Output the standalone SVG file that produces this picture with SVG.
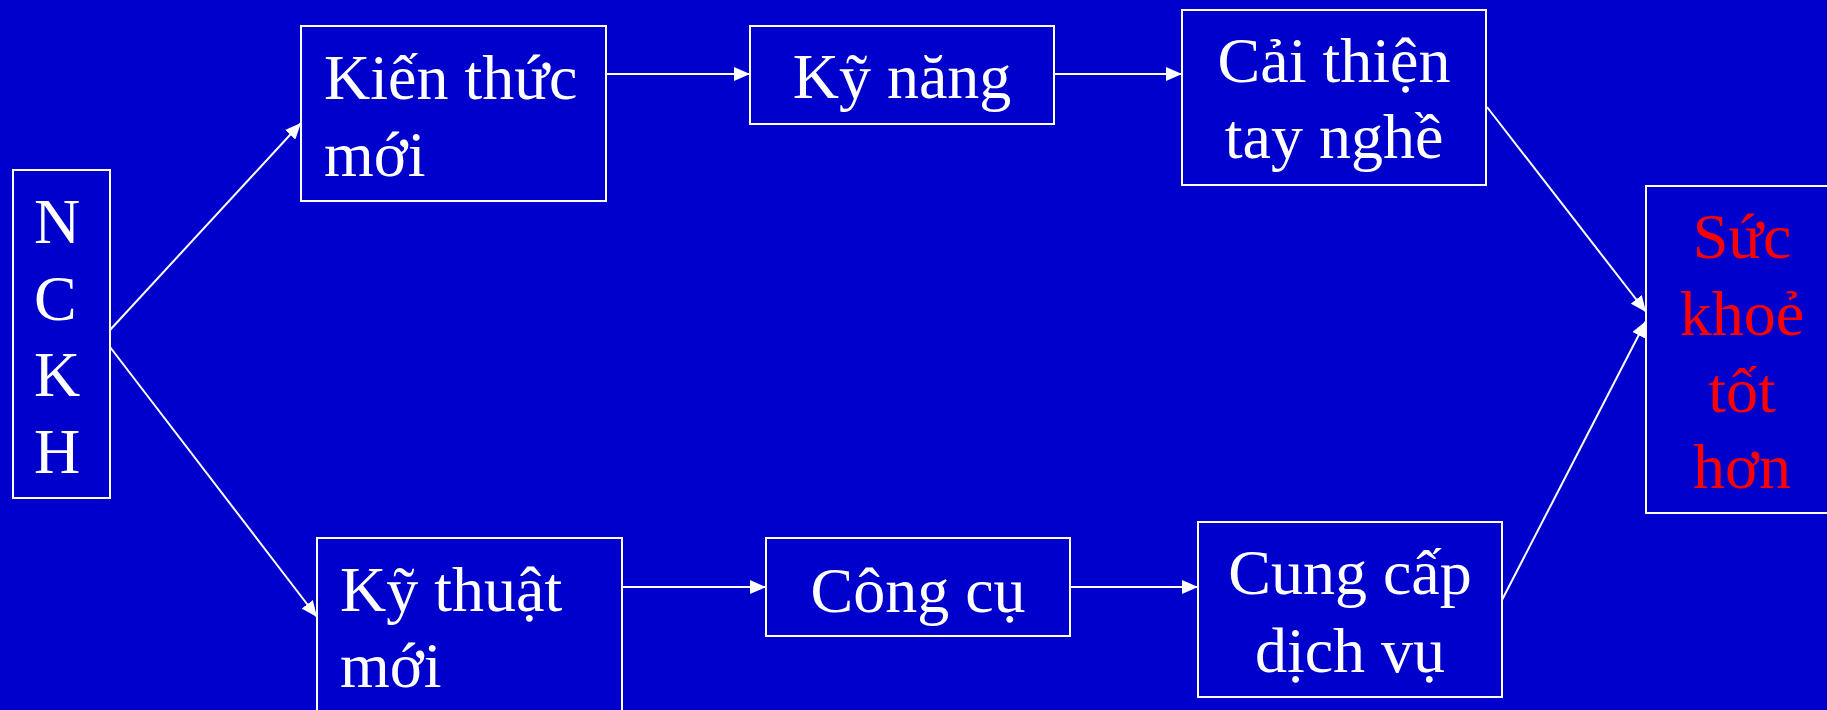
<svg xmlns="http://www.w3.org/2000/svg" width="1827" height="710" viewBox="0 0 1827 710">
  <style>
    .box { fill: none; stroke: #ffffff; stroke-width: 2; }
    .lbl { font-family: "Liberation Serif", "Times New Roman", serif; font-size: 64px; fill: #ffffff; }
    .mid { text-anchor: middle; }
    .goal { fill: #ff0000; }
    .link { stroke: #ffffff; stroke-width: 2; fill: none; marker-end: url(#head); }
  </style>
  <defs>
    <marker id="head" markerUnits="userSpaceOnUse" markerWidth="16" markerHeight="14" refX="16" refY="7" orient="auto">
      <path d="M0,0 L16,7 L0,14 Z" fill="#ffffff"/>
    </marker>
  </defs>

  <rect width="1827" height="710" fill="#0000cc"/>

  <!-- connectors -->
  <g id="connectors">
    <line class="link" x1="110" y1="330" x2="301" y2="123"/>
    <line class="link" x1="110" y1="347" x2="317" y2="617"/>
    <line class="link" x1="606" y1="74" x2="750" y2="74"/>
    <line class="link" x1="1054" y1="74" x2="1182" y2="74"/>
    <line class="link" x1="622" y1="587" x2="766" y2="587"/>
    <line class="link" x1="1070" y1="587" x2="1198" y2="587"/>
    <line class="link" x1="1487" y1="107" x2="1646" y2="312"/>
    <line class="link" x1="1502" y1="600" x2="1646" y2="321"/>
  </g>

  <!-- source -->
  <g id="nckh">
    <rect class="box" x="13" y="170" width="97" height="328"/>
    <text class="lbl" x="34" y="243">N</text>
    <text class="lbl" x="34" y="320">C</text>
    <text class="lbl" x="34" y="396">K</text>
    <text class="lbl" x="34" y="473">H</text>
  </g>

  <!-- upper path -->
  <g id="kien-thuc-moi">
    <rect class="box" x="301" y="26" width="305" height="175"/>
    <text class="lbl" x="324" y="99">Kiến thức</text>
    <text class="lbl" x="324" y="176">mới</text>
  </g>
  <g id="ky-nang">
    <rect class="box" x="750" y="26" width="304" height="98"/>
    <text class="lbl mid" x="902" y="98">Kỹ năng</text>
  </g>
  <g id="cai-thien-tay-nghe">
    <rect class="box" x="1182" y="10" width="304" height="175"/>
    <text class="lbl mid" x="1334" y="82">Cải thiện</text>
    <text class="lbl mid" x="1334" y="158">tay nghề</text>
  </g>

  <!-- lower path -->
  <g id="ky-thuat-moi">
    <rect class="box" x="317" y="538" width="305" height="180"/>
    <text class="lbl" x="340" y="611">Kỹ thuật</text>
    <text class="lbl" x="340" y="687">mới</text>
  </g>
  <g id="cong-cu">
    <rect class="box" x="766" y="538" width="304" height="98"/>
    <text class="lbl mid" x="918" y="612">Công cụ</text>
  </g>
  <g id="cung-cap-dich-vu">
    <rect class="box" x="1198" y="522" width="304" height="175"/>
    <text class="lbl mid" x="1350" y="594">Cung cấp</text>
    <text class="lbl mid" x="1350" y="672">dịch vụ</text>
  </g>

  <!-- outcome -->
  <g id="suc-khoe-tot-hon">
    <rect class="box" x="1646" y="186" width="192" height="327"/>
    <text class="lbl mid goal" x="1742" y="258">Sức</text>
    <text class="lbl mid goal" x="1742" y="335">khoẻ</text>
    <text class="lbl mid goal" x="1742" y="412">tốt</text>
    <text class="lbl mid goal" x="1742" y="488">hơn</text>
  </g>
</svg>
